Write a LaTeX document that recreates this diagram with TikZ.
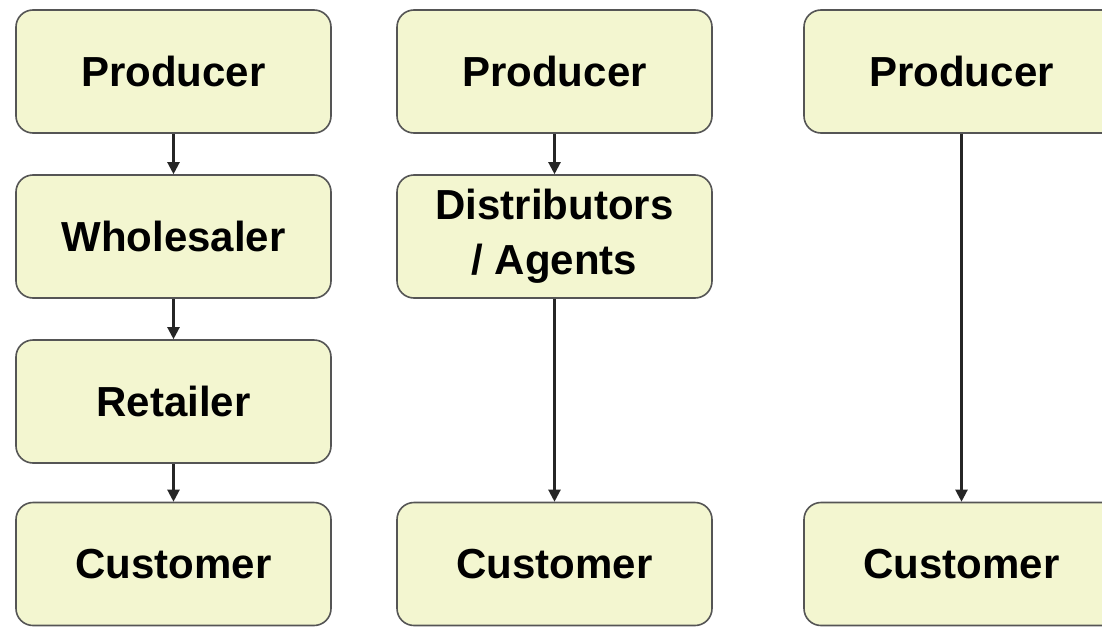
\documentclass[tikz,border=0pt]{standalone}
\usepackage{fontspec}
\setmainfont{Liberation Sans}
\usetikzlibrary{arrows.meta}
\definecolor{boxfill}{RGB}{243,246,208}
\definecolor{boxline}{RGB}{85,85,85}
\tikzset{
  chanbox/.style={draw=boxline, line width=1.6pt, fill=boxfill, rounded corners=17pt,
    minimum width=315pt, minimum height=123pt, inner sep=0pt, align=center,
    font=\fontsize{42}{55}\selectfont\bfseries},
  flow/.style={line width=2.2pt, draw=black!85, -{Triangle[length=12pt,width=12pt]}}
}
\begin{document}
\begin{tikzpicture}[x=1pt,y=-1pt]
\useasboundingbox (0,0) rectangle (1102,626);
\clip (0,0) rectangle (1102,626);
\fill[white] (0,0) rectangle (1102,626);
% column 1
\node[chanbox] (p1) at (173.5,71.5) {Producer};
\node[chanbox] (w1) at (173.5,236.5) {Wholesaler};
\node[chanbox] (r1) at (173.5,401.5) {Retailer};
\node[chanbox] (c1) at (173.5,564) {Customer};
% column 2
\node[chanbox] (p2) at (554.5,71.5) {Producer};
\node[chanbox] (d2) at (554.5,236.5) {Distributors\\/ Agents};
\node[chanbox] (c2) at (554.5,564) {Customer};
% column 3
\node[chanbox] (p3) at (961.5,71.5) {Producer};
\node[chanbox] (c3) at (961.5,564) {Customer};
% connectors
\draw[flow] (p1) -- (w1);
\draw[flow] (w1) -- (r1);
\draw[flow] (r1) -- (c1);
\draw[flow] (p2) -- (d2);
\draw[flow] (d2) -- (c2);
\draw[flow] (p3) -- (c3);
\end{tikzpicture}
\end{document}
